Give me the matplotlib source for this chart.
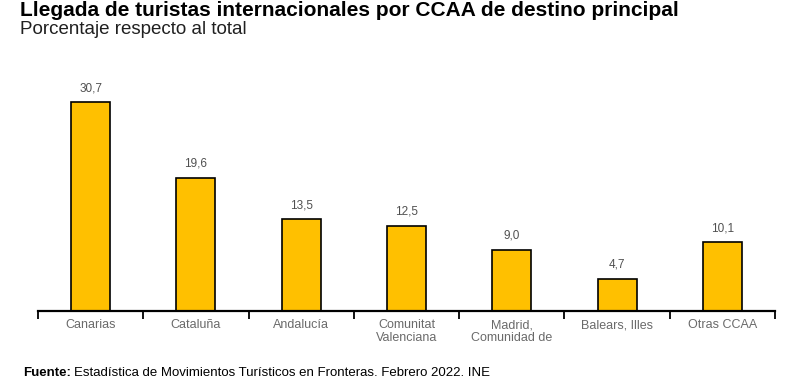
import matplotlib
matplotlib.use('Agg')
import matplotlib.pyplot as plt

categorias = ["Canarias", "Cataluña", "Andalucía", "Comunitat\nValenciana",
              "Madrid,\nComunidad de", "Balears, Illes", "Otras CCAA"]
porcentaje = [30.7, 19.6, 13.5, 12.5, 9.0, 4.7, 10.1]

plt.rcParams['font.family'] = ['Liberation Sans', 'DejaVu Sans']

fig = plt.figure(figsize=(8, 3.8), dpi=100)
ax = fig.add_axes([38 / 800, 1 - 311 / 380, (775 - 38) / 800, (311 - 73) / 380])

x = list(range(len(categorias)))
ax.bar(x, porcentaje, width=0.37, color="#FFC000", edgecolor="black", linewidth=1.2, zorder=2)
for xi, v in zip(x, porcentaje):
    ax.text(xi, v + 1.2, f"{v:.1f}".replace(".", ","), ha="center", va="bottom",
            fontsize=8.5, color="#505050")

ax.set_xlim(-0.5, len(categorias) - 0.5)
ax.set_ylim(0, 35)
for s in ["top", "right", "left"]:
    ax.spines[s].set_visible(False)
ax.spines["bottom"].set_linewidth(1.6)
ax.set_yticks([])

ax.set_xticks([i - 0.5 for i in range(len(categorias) + 1)])
ax.set_xticklabels([])
ax.tick_params(axis="x", which="major", direction="out", length=6, width=1.3)
ax.set_xticks(x, minor=True)
ax.set_xticklabels(categorias, minor=True, fontsize=9, color="#6a6a6a", linespacing=1.05)
ax.tick_params(axis="x", which="minor", length=0, pad=6)

fig.text(20 / 800, 1 - 16 / 380, "Llegada de turistas internacionales por CCAA de destino principal",
         fontsize=15, fontweight="bold", va="baseline", ha="left")
fig.text(20 / 800, 1 - 34 / 380, "Porcentaje respecto al total",
         fontsize=13.5, va="baseline", ha="left", color="#202020")

t = fig.text(23 / 800, 1 - 376 / 380, "Fuente:", fontsize=9.5, fontweight="bold", va="baseline", ha="left")
fig.canvas.draw()
bb = t.get_window_extent()
fig.text(bb.x1 / 800 + 3 / 800, 1 - 376 / 380,
         "Estadística de Movimientos Turísticos en Fronteras. Febrero 2022. INE",
         fontsize=9.5, va="baseline", ha="left")

fig.savefig("out.png", dpi=100)
